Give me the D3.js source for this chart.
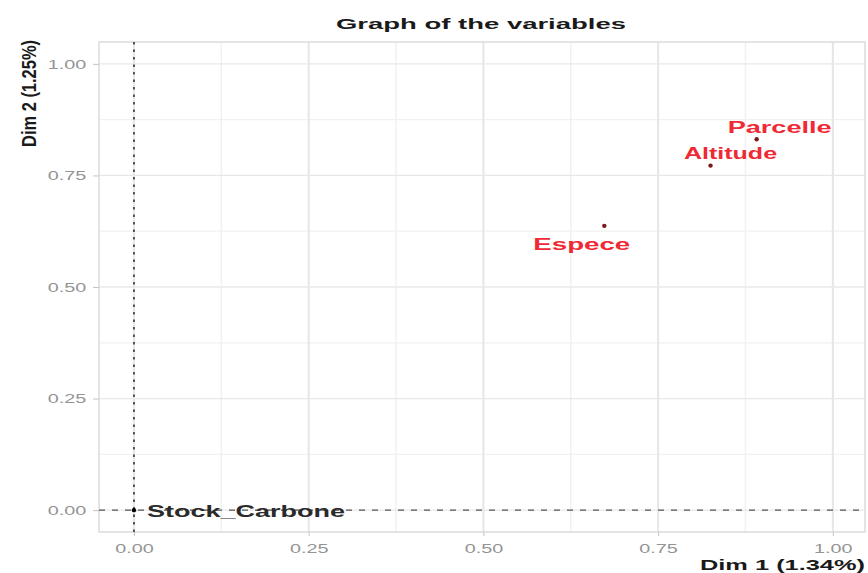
<!DOCTYPE html>
<html><head><meta charset="utf-8">
<script src="https://cdn.jsdelivr.net/npm/d3@7"></script>
<style>body{margin:0;background:#fff;} text{font-family:"Liberation Sans",Arial,sans-serif;}</style>
</head><body><svg id="c" width="868" height="573"></svg>
<script>
const variables = ["Parcelle", "Altitude", "Espece", "Stock_Carbone"];
const dim1 = [0.891, 0.825, 0.673, 0.0];
const dim2 = [0.831, 0.772, 0.637, 0.0];
const groups = ["active", "active", "active", "supp"];
const tickValues = [0, 0.25, 0.5, 0.75, 1.0];
const minorTicks = [0.125, 0.375, 0.625, 0.875];

// layout (label placement like ggrepel)
const labelLayout = {
  Parcelle: {dx: 23, dy: -12, w: 104},
  Altitude: {dx: 20, dy: -12, w: 93},
  Espece: {dx: -22.5, dy: 18, w: 97},
  Stock_Carbone: {dx: 112, dy: 1, w: 198}
};
const STRETCH = 1.45;

const svg = d3.select("#c");
const L = 99, R = 865, T = 42, B = 532;
const x = d3.scaleLinear().domain([-0.05, 1.046]).range([L, R]);
const y = d3.scaleLinear().domain([-0.049, 1.049]).range([B, T]);

// panel grid
const g = svg.append("g");
g.selectAll(".mx").data(minorTicks).enter().append("line")
  .attr("x1", d => x(d)).attr("x2", d => x(d)).attr("y1", T).attr("y2", B)
  .attr("stroke", "#f1f1f1").attr("stroke-width", 1.5);
g.selectAll(".my").data(minorTicks).enter().append("line")
  .attr("y1", d => y(d)).attr("y2", d => y(d)).attr("x1", L).attr("x2", R)
  .attr("stroke", "#f1f1f1").attr("stroke-width", 1.2);
g.selectAll(".gx").data(tickValues).enter().append("line")
  .attr("x1", d => x(d)).attr("x2", d => x(d)).attr("y1", T).attr("y2", B)
  .attr("stroke", "#e6e6e6").attr("stroke-width", 2);
g.selectAll(".gy").data(tickValues).enter().append("line")
  .attr("y1", d => y(d)).attr("y2", d => y(d)).attr("x1", L).attr("x2", R)
  .attr("stroke", "#e8e8e8").attr("stroke-width", 1.3);
g.append("rect").attr("x", L).attr("y", T).attr("width", R - L).attr("height", B - T)
  .attr("fill", "none").attr("stroke", "#dedede").attr("stroke-width", 1.6);

// axes
const fmt = d3.format(".2f");
const xAxis = d3.axisBottom(x).tickValues(tickValues).tickFormat(fmt).tickSize(4).tickPadding(6);
const yAxis = d3.axisLeft(y).tickValues(tickValues).tickFormat(fmt).tickSize(6).tickPadding(6);
const gx = svg.append("g").attr("transform", `translate(0,${B})`).call(xAxis);
const gy = svg.append("g").attr("transform", `translate(${L},0)`).call(yAxis);
[gx, gy].forEach(a => {
  a.select(".domain").remove();
  a.selectAll(".tick line").attr("stroke", "#c4c4c4");
});
gx.selectAll(".tick text").attr("fill", "#949494").style("font-size", "12px")
  .attr("y", 0).attr("dy", 0)
  .attr("transform", "translate(0,21) scale(1.65,1)");
gy.selectAll(".tick text").attr("fill", "#949494").style("font-size", "12px")
  .attr("x", 0).attr("dy", "0.35em").attr("text-anchor", "middle")
  .attr("transform", "translate(-32,0) scale(1.65,1)");

// reference lines
svg.append("line").attr("x1", x(0)).attr("x2", x(0)).attr("y1", T).attr("y2", B)
  .attr("stroke", "#333").attr("stroke-width", 1.6).attr("stroke-dasharray", "2.5,5");
svg.append("line").attr("y1", y(0)).attr("y2", y(0)).attr("x1", L).attr("x2", R)
  .attr("stroke", "#555").attr("stroke-width", 1.4).attr("stroke-dasharray", "6,7");

// points + labels
const data = variables.map((v, i) => ({v, x: dim1[i], y: dim2[i], grp: groups[i]}));
svg.selectAll(".pt").data(data).enter().append("circle")
  .attr("cx", d => x(d.x)).attr("cy", d => y(d.y)).attr("r", 2.2)
  .attr("fill", d => d.grp === "active" ? "#7a1a1a" : "#000");
svg.selectAll(".lb").data(data).enter().append("text")
  .attr("x", d => x(d.x) + labelLayout[d.v].dx).attr("y", d => y(d.y) + labelLayout[d.v].dy)
  .attr("text-anchor", "middle").attr("dy", "0.36em")
  .attr("textLength", d => labelLayout[d.v].w).attr("lengthAdjust", "spacingAndGlyphs")
  .attr("fill", d => d.grp === "active" ? "#ef2a35" : "#2a2a2a")
  .style("font-size", "16px").style("font-weight", "bold")
  .text(d => d.v);

// titles
svg.append("text").attr("x", 481).attr("y", 29).attr("text-anchor", "middle")
  .attr("textLength", 290).attr("lengthAdjust", "spacingAndGlyphs")
  .style("font-size", "15.5px").style("font-weight", "bold").attr("fill", "#1a1a1a")
  .text("Graph of the variables");
svg.append("text").attr("x", 865).attr("y", 570).attr("text-anchor", "end")
  .attr("textLength", 165).attr("lengthAdjust", "spacingAndGlyphs")
  .style("font-size", "14px").style("font-weight", "bold").attr("fill", "#1a1a1a")
  .text("Dim 1 (1.34%)");
svg.append("text").attr("transform", `translate(36,40) scale(${STRETCH},1) rotate(-90)`)
  .attr("text-anchor", "end")
  .attr("textLength", 107).attr("lengthAdjust", "spacingAndGlyphs")
  .style("font-size", "14px").style("font-weight", "bold").attr("fill", "#1a1a1a")
  .text("Dim 2 (1.25%)");
</script></body></html>
